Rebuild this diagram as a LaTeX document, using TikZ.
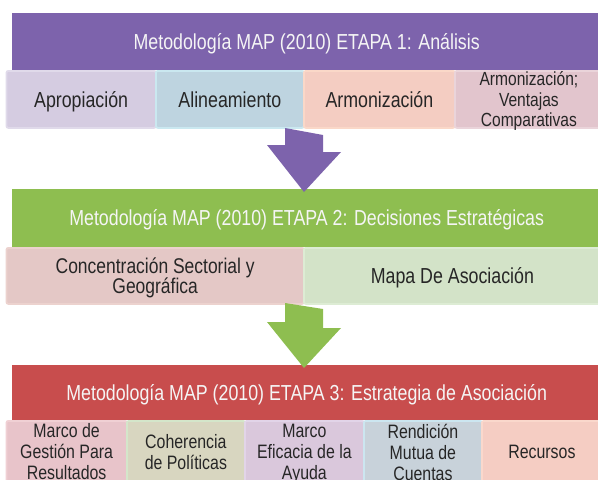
\documentclass[tikz,border=0pt]{standalone}
\usepackage{fontspec}
\setmainfont{Liberation Sans}[FakeStretch=0.82]
\usetikzlibrary{positioning}

% colours of the three stages
\definecolor{etapaUno}{RGB}{125,99,172}
\definecolor{etapaDos}{RGB}{142,190,80}
\definecolor{etapaTres}{RGB}{200,77,77}

\tikzset{
  header/.style={rectangle, anchor=north west, inner sep=0pt, text=white!96!black,
    font=\fontsize{21.7}{23}\selectfont, text depth=1pt, minimum height=#1},
  cell/.style={rectangle, anchor=north west, inner sep=1pt, rounded corners=2pt,
    line width=1.8pt, align=center, text=black!85, text depth=0pt,
    font=\fontsize{21.7}{21}\selectfont, minimum height=#1},
  small/.style={font=\fontsize{19}{20.5}\selectfont},
  third/.style={font=\fontsize{19.4}{21}\selectfont}
}

\begin{document}
\begin{tikzpicture}[x=1pt,y=-1pt]
  \useasboundingbox (0,0) rectangle (598,480);

  % ETAPA 1
  \node[header=57pt, fill=etapaUno, minimum width=590pt] (e1) at (11.5,13)
    {Metodología MAP (2010) ETAPA 1: Análisis};
  \node[cell=57pt, fill={rgb,255:red,213;green,204;blue,225}, draw={rgb,255:red,224;green,218;blue,234}, minimum width=149.5pt] (apro) at (5.5,70) {Apropiación};
  \node[cell=57pt, fill={rgb,255:red,190;green,212;blue,224}, draw={rgb,255:red,202;green,232;blue,240}, minimum width=148pt] (alin) at (155,70) {Alineamiento};
  \node[cell=57pt, fill={rgb,255:red,244;green,205;blue,194}, draw={rgb,255:red,250;green,216;blue,200}, minimum width=151pt] (armo) at (303,70) {Armonización};
  \node[cell=57pt, small, fill={rgb,255:red,226;green,197;blue,205}, draw={rgb,255:red,234;green,212;blue,218}, minimum width=148pt] (vent) at (454,70) {Armonización;\\ Ventajas\\ Comparativas};

  % ETAPA 2
  \node[header=58pt, fill=etapaDos, minimum width=590pt] (e2) at (11.5,189)
    {Metodología MAP (2010) ETAPA 2: Decisiones Estratégicas};
  \node[cell=56pt, fill={rgb,255:red,228;green,200;blue,198}, draw={rgb,255:red,236;green,210;blue,206}, minimum width=297.5pt, font=\fontsize{21.3}{20.5}\selectfont] (conc) at (5.5,247) {Concentración Sectorial y\\ Geográfica};
  \node[cell=56pt, fill={rgb,255:red,211;green,227;blue,200}, draw={rgb,255:red,221;green,236;blue,212}, minimum width=297pt] (mapa) at (303,247) {Mapa De Asociación};

  % ETAPA 3
  \node[header=55pt, fill=etapaTres, minimum width=590pt] (e3) at (11.5,365)
    {Metodología MAP (2010) ETAPA 3: Estrategia de Asociación};
  \node[cell=62pt, third, fill={rgb,255:red,232;green,196;blue,202}, draw={rgb,255:red,240;green,208;blue,212}, minimum width=120.5pt] (marc) at (5.5,420) {Marco de\\ Gestión Para\\ Resultados};
  \node[cell=62pt, third, fill={rgb,255:red,216;green,214;blue,192}, draw={rgb,255:red,212;green,230;blue,202}, minimum width=118pt] (cohe) at (126,420) {Coherencia\\ de Políticas};
  \node[cell=62pt, third, fill={rgb,255:red,218;green,200;blue,220}, draw={rgb,255:red,226;green,212;blue,232}, minimum width=119pt] (efic) at (244,420) {Marco\\ Eficacia de la\\ Ayuda};
  \node[cell=62pt, third, fill={rgb,255:red,200;green,210;blue,218}, draw={rgb,255:red,204;green,230;blue,240}, minimum width=118pt] (rend) at (363,420) {Rendición\\ Mutua de\\ Cuentas};
  \node[cell=62pt, third, fill={rgb,255:red,245;green,205;blue,195}, draw={rgb,255:red,250;green,216;blue,204}, minimum width=120pt] (recu) at (481,420) {Recursos};

  % arrows between stages
  \coordinate (f1) at (304,128);
  \coordinate (f2) at (304,303);
  \fill[etapaUno] (f1) ++(-19,0) -- ++(0,17) -- ++(-18,0) -- ([yshift=-3pt]e2.north -| f1) -- ++(37,-40) -- ++(-18,0) -- ++(0,-17) -- cycle;
  \fill[etapaDos] (f2) ++(-19,0) -- ++(0,19) -- ++(-18,0) -- ([yshift=-3pt]e3.north -| f2) -- ++(37,-40) -- ++(-18,0) -- ++(0,-19) -- cycle;
\end{tikzpicture}
\end{document}
